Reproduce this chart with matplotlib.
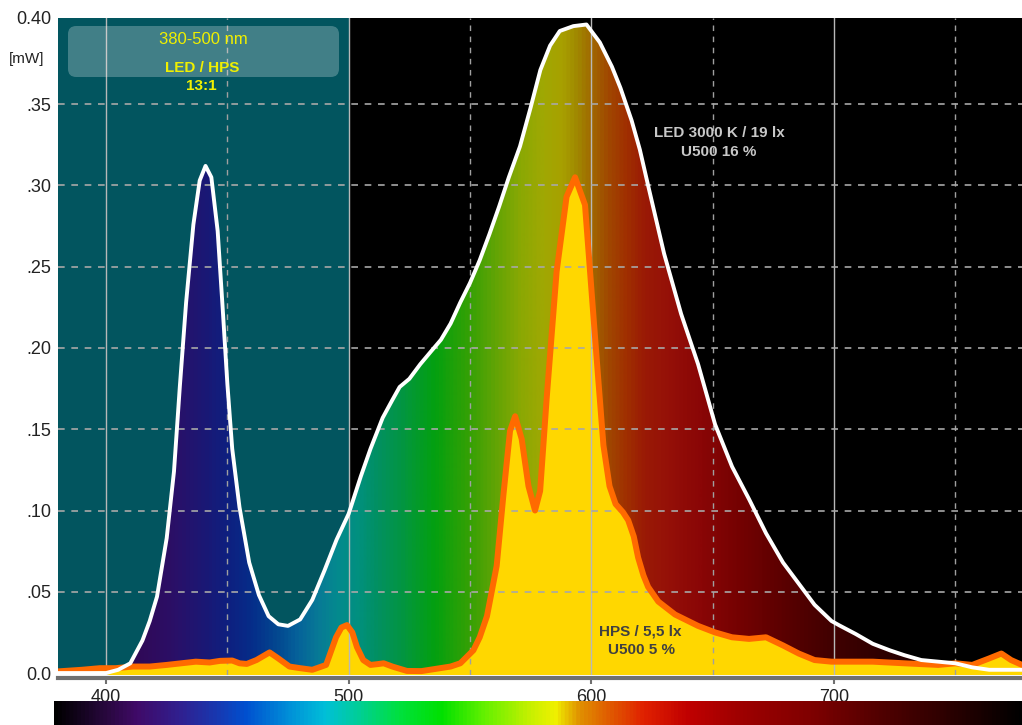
import numpy as np
import matplotlib
matplotlib.use("Agg")
import matplotlib.pyplot as plt
from matplotlib.colors import LinearSegmentedColormap
from matplotlib.patches import FancyBboxPatch

plt.rcParams['font.family'] = ['Liberation Sans', 'DejaVu Sans']

## data
led_nm = [380, 390, 400, 405, 410, 415, 418, 421, 425, 428, 430.4, 433, 436, 438.6, 441,
          443.4, 446, 448, 450, 452, 455, 459, 463, 467, 471, 475, 480, 485, 490, 495,
          500, 505, 509, 514, 518, 521, 525, 529.5, 534, 538, 542, 546, 550, 554, 558,
          562, 566, 570.6, 575, 579, 583, 587, 592.6, 598, 603.5, 608.5, 612, 616.6, 620,
          623.4, 630, 637, 644, 651, 658, 665, 672, 679, 685.5, 692, 699, 702, 709, 716,
          723, 729, 736, 743, 750, 757, 764, 771, 777.5]
led_mw = [0.0, 0.0, 0.0, 0.002, 0.006, 0.020, 0.032, 0.047, 0.083, 0.124, 0.176, 0.228, 0.276,
          0.303, 0.312, 0.305, 0.272, 0.226, 0.178, 0.138, 0.102, 0.068, 0.048, 0.035, 0.030,
          0.029, 0.033, 0.045, 0.063, 0.082, 0.098, 0.121, 0.138, 0.157, 0.168, 0.176, 0.181,
          0.190, 0.198, 0.205, 0.215, 0.228, 0.240, 0.254, 0.270, 0.287, 0.305, 0.324, 0.348,
          0.371, 0.386, 0.395, 0.398, 0.399, 0.388, 0.373, 0.360, 0.340, 0.322, 0.300, 0.258,
          0.221, 0.190, 0.153, 0.127, 0.107, 0.086, 0.068, 0.055, 0.042, 0.032, 0.0295, 0.024,
          0.018, 0.014, 0.011, 0.008, 0.007, 0.006, 0.0035, 0.002, 0.002, 0.002]

hps_nm = [380, 390, 397.5, 404, 411, 418, 425, 431, 437, 442.7, 447, 452, 455, 458, 462, 467.4,
          471, 475.6, 480, 485, 490.7, 494.8, 497, 499.3, 501.5, 503.4, 506, 509, 512, 514.4,
          518, 524, 530, 537.7, 542, 546, 551.4, 554, 557, 561, 563.8, 566.5, 568.6, 571.3,
          574.1, 576.8, 578.9, 581.6, 585.7, 589.8, 593.3, 597.4, 600.8, 602.8, 605, 607.5,
          610, 613, 615.2, 617.5, 619.3, 621.5, 623.4, 627.6, 634.5, 644, 651, 658, 665, 672,
          679, 685.5, 692, 699, 702, 716, 729, 743, 750, 757, 764, 769, 773, 777.5]
hps_mw = [0.001, 0.002, 0.003, 0.003, 0.004, 0.004, 0.005, 0.006, 0.007, 0.0065, 0.0075, 0.0077,
          0.006, 0.0056, 0.008, 0.0127, 0.009, 0.004, 0.003, 0.002, 0.005, 0.022, 0.028, 0.0295,
          0.025, 0.016, 0.008, 0.005, 0.0055, 0.006, 0.004, 0.0013, 0.0012, 0.003, 0.004, 0.006,
          0.014, 0.022, 0.035, 0.066, 0.110, 0.149, 0.158, 0.144, 0.115, 0.100, 0.112, 0.169,
          0.247, 0.293, 0.305, 0.288, 0.221, 0.182, 0.140, 0.115, 0.104, 0.099, 0.094, 0.084,
          0.071, 0.060, 0.053, 0.044, 0.036, 0.029, 0.025, 0.022, 0.021, 0.022, 0.017, 0.012,
          0.008, 0.007, 0.007, 0.007, 0.006, 0.005, 0.006, 0.005, 0.009, 0.012, 0.008, 0.005]

ytick_vals = [0.0, 0.05, 0.10, 0.15, 0.20, 0.25, 0.30, 0.35, 0.403]
ytick_labels = ['0.0', '.05', '.10', '.15', '.20', '.25', '.30', '.35', '0.40']
xtick_vals = [400, 500, 600, 700]

# darkened spectrum used inside the LED curve
fill_stops = [(380, '#1a0530'), (400, '#2a0848'), (415, '#300a5a'), (428, '#2a1068'),
              (440, '#1a1875'), (450, '#0e2080'), (460, '#052e8a'), (470, '#034890'),
              (478, '#05609a'), (487, '#087a96'), (495, '#048a8e'), (503, '#019080'),
              (512, '#029060'), (522, '#039640'), (535, '#03a010'), (548, '#30a005'),
              (560, '#60a405'), (570, '#88a804'), (580, '#a0a803'), (588, '#a8a000'),
              (594, '#a08800'), (600, '#a06800'), (607, '#a04800'), (614, '#a03000'),
              (622, '#9a1a06'), (632, '#951008'), (645, '#8a0606'), (660, '#760202'),
              (680, '#5a0000'), (700, '#400000'), (725, '#2a0000'), (750, '#180000'),
              (777.5, '#100000')]
# bright spectrum for the bar under the axis
bar_stops = [(378.6, '#000000'), (400, '#2a0840'), (412, '#400a68'), (430, '#302090'),
             (445, '#1838b0'), (457, '#0050d0'), (475, '#0090d8'), (490, '#00c0d8'),
             (505, '#00d090'), (520, '#00e040'), (538, '#00e000'), (555, '#60f000'),
             (575, '#c8f000'), (585, '#f0f000'), (595, '#e09000'), (610, '#e05000'),
             (622, '#e02000'), (640, '#c00000'), (660, '#a00000'), (690, '#800000'),
             (720, '#500000'), (750, '#280000'), (777.5, '#000000')]

def make_cmap(name, stops):
    lo, hi = stops[0][0], stops[-1][0]
    return LinearSegmentedColormap.from_list(name, [((n - lo) / (hi - lo), c) for n, c in stops])

W, H = 1022, 725
fig = plt.figure(figsize=(W / 100, H / 100), dpi=100)
fig.patch.set_facecolor('white')

x0, x1 = 380.2, 777.5
ax = fig.add_axes([58 / W, (H - 675) / H, (W - 58) / W, (675 - 18) / H])
ax.set_facecolor('black')
ax.set_xlim(x0, x1)
ax.set_ylim(-0.0012, 0.403)

ax.axvspan(x0, 500, color='#02555f', zorder=0, lw=0)

# gradient under the LED curve
grad = np.linspace(380, 777.5, 1000).reshape(1, -1)
im = ax.imshow(grad, extent=[380, 777.5, -0.002, 0.41], aspect='auto',
               cmap=make_cmap('fill', fill_stops), vmin=380, vmax=777.5, zorder=1,
               interpolation='bilinear')
pc = ax.fill_between(led_nm, 0, led_mw, facecolor='none', edgecolor='none')
im.set_clip_path(pc.get_paths()[0], transform=ax.transData)

ax.fill_between(hps_nm, -0.002, hps_mw, facecolor='#ffd700', edgecolor='none', zorder=2)

# grid
for v in [400, 500, 600, 700]:
    ax.axvline(v, color='#b8b8b8', lw=1, zorder=3)
for v in [450, 550, 650, 750]:
    ax.axvline(v, color='#a0a0a0', lw=1, dashes=(4, 4), zorder=3)
for v in ytick_vals[1:-1]:
    ax.axhline(v, color='#a8a8a8', lw=1.2, dashes=(4, 4), zorder=3)

ax.plot(hps_nm, hps_mw, color='#ff6a00', lw=4.3, zorder=4, solid_joinstyle='round')
ax.plot(led_nm, led_mw, color='white', lw=2.8, zorder=5, solid_joinstyle='round')

# axes styling
for s in ['top', 'left', 'right']:
    ax.spines[s].set_visible(False)
ax.spines['bottom'].set_color('#707070')
ax.spines['bottom'].set_linewidth(3)
ax.spines['bottom'].set_position(('outward', 2))
ax.set_yticks(ytick_vals)
ax.set_yticklabels(ytick_labels)
ax.set_xticks(xtick_vals)
ax.tick_params(axis='y', length=0, pad=5, labelsize=13, colors='#222222')
ax.tick_params(axis='x', length=4, width=1.5, color='#707070', pad=4,
               labelsize=13, labelcolor='#222222')

# spectrum bar
cax = fig.add_axes([54 / W, 0, (W - 54) / W, 24 / H])
cax.imshow(np.linspace(378.6, 777.5, 1000).reshape(1, -1), extent=[378.6, 777.5, 0, 1],
           aspect='auto', cmap=make_cmap('bar', bar_stops), vmin=378.6, vmax=777.5)
cax.set_axis_off()

# annotations
box = FancyBboxPatch((68 / W, 1 - 77 / H), (339 - 68) / W, (77 - 26) / H,
                     boxstyle='round,pad=0,rounding_size=0.008', mutation_aspect=W / H,
                     transform=fig.transFigure, facecolor='white', alpha=0.25,
                     edgecolor='none', zorder=1)
fig.patches.append(box)
fig.text(203 / W, 1 - 39 / H, '380-500 nm', color='#f0f000', fontsize=12,
         ha='center', va='center', zorder=3)
fig.text(202 / W, 1 - 68 / H, 'LED / HPS', color='#f0f000', fontsize=11,
         fontweight='bold', ha='center', va='center', zorder=3)
fig.text(201 / W, 1 - 86 / H, '13:1', color='#f0f000', fontsize=11,
         fontweight='bold', ha='center', va='center', zorder=3)
fig.text(27 / W, 1 - 59 / H, '[mW]', color='#222222', fontsize=11,
         ha='center', va='center')
fig.text(719 / W, 1 - 133 / H, 'LED 3000 K / 19 lx', color='#c8c8c8', fontsize=11,
         fontweight='bold', ha='center', va='center', zorder=3)
fig.text(719 / W, 1 - 152 / H, 'U500 16 %', color='#c8c8c8', fontsize=11,
         fontweight='bold', ha='center', va='center', zorder=3)
fig.text(640 / W, 1 - 632 / H, 'HPS / 5,5 lx', color='#404040', fontsize=11,
         fontweight='bold', ha='center', va='center', zorder=3)
fig.text(641 / W, 1 - 650 / H, 'U500 5 %', color='#404040', fontsize=11,
         fontweight='bold', ha='center', va='center', zorder=3)

fig.savefig('out.png', dpi=100)
